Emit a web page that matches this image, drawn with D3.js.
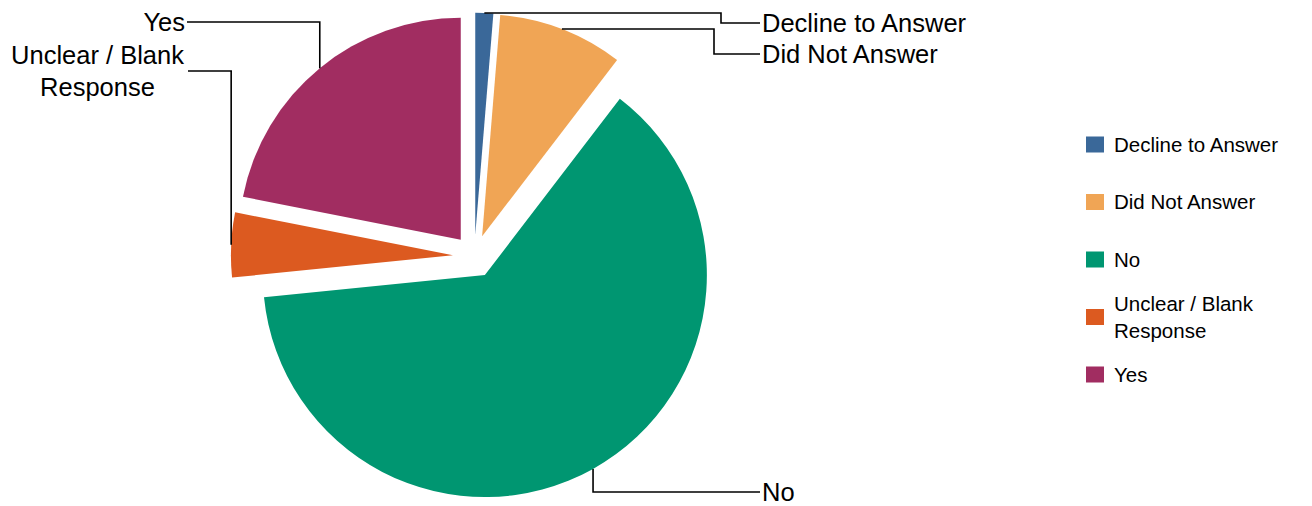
<!DOCTYPE html>
<html>
<head>
<meta charset="utf-8">
<script src="https://cdn.jsdelivr.net/npm/d3@7"></script>
<style>
  html, body { margin: 0; padding: 0; background: #fff; }
  svg { display: block; font-family: "Liberation Sans", Arial, sans-serif; }
</style>
</head>
<body>
<svg id="chart" width="1312" height="506"></svg>
<script>
// ---- data ----
const categories = ["Decline to Answer", "Did Not Answer", "No", "Unclear / Blank Response", "Yes"];
const values = [1.3, 9.1, 63.0, 4.7, 21.9];
const colors = ["#3A6899", "#F0A555", "#009671", "#DC5A20", "#A12D61"];
const legendLines = [["Decline to Answer"], ["Did Not Answer"], ["No"], ["Unclear / Blank", "Response"], ["Yes"]];

// ---- layout ----
const W = 1312, H = 506;
const cx = 474.4, cy = 256.3, R = 222, explode = 21.5;
const svg = d3.select("#chart");

const pie = d3.pie().sort(null).value(d => d.v).startAngle(0).endAngle(2 * Math.PI);
const arcs = pie(categories.map((c, i) => ({ c, v: values[i], col: colors[i] })));
const arc = d3.arc().innerRadius(0).outerRadius(R);

const g = svg.append("g").attr("transform", `translate(${cx},${cy})`);

function offset(d) {
  const a = (d.startAngle + d.endAngle) / 2;
  return [explode * Math.sin(a), -explode * Math.cos(a)];
}
function outerPoint(d) {
  const a = (d.startAngle + d.endAngle) / 2;
  const o = offset(d);
  return [cx + o[0] + R * Math.sin(a), cy + o[1] - R * Math.cos(a)];
}

g.selectAll("path.slice").data(arcs).enter().append("path")
  .attr("class", "slice")
  .attr("d", arc)
  .attr("fill", d => d.data.col)
  .attr("transform", d => `translate(${offset(d)[0]},${offset(d)[1]})`);

// ---- leader labels ----
const labelLayout = [
  { anchor: "start", tx: 762, ty: 23, lineEnd: 760, elbow: 721, lines: ["Decline to Answer"] },
  { anchor: "start", tx: 762, ty: 54, lineEnd: 760, elbow: 714, lines: ["Did Not Answer"] },
  { anchor: "start", tx: 762, ty: 492, lineEnd: 760, elbow: null, lines: ["No"] },
  { anchor: "middle", tx: 97.5, ty: 71, lineEnd: 188, elbow: null, lines: ["Unclear / Blank", "Response"] },
  { anchor: "end", tx: 185, ty: 22, lineEnd: 187, elbow: null, lines: ["Yes"] }
];

const fontSize = 25.5, lineH = 31.5;
arcs.forEach((d, i) => {
  const L = labelLayout[i];
  const p = outerPoint(d);
  let path = `M${p[0]},${p[1]}`;
  if (L.elbow !== null) path += `H${L.elbow}`;
  path += `V${L.ty}H${L.lineEnd}`;
  svg.append("path").attr("d", path).attr("fill", "none")
    .attr("stroke", "#000").attr("stroke-width", 1.6);

  const n = L.lines.length;
  const t = svg.append("text")
    .attr("x", L.tx)
    .attr("text-anchor", L.anchor)
    .attr("font-size", fontSize)
    .attr("fill", "#000");
  L.lines.forEach((s, k) => {
    t.append("tspan").attr("x", L.tx)
      .attr("y", L.ty + (k - (n - 1) / 2) * lineH)
      .attr("dy", "0.35em")
      .text(s);
  });
});

// ---- legend ----
const legX = 1086, legTextX = 1114, legY0 = 144.5, legStep = 57.5;
const legFont = 20.5, legLineH = 27;
const leg = svg.append("g");
categories.forEach((c, i) => {
  const y = legY0 + i * legStep;
  leg.append("rect").attr("x", legX).attr("y", y - 8).attr("width", 18).attr("height", 16)
    .attr("fill", colors[i]);
  const lines = legendLines[i];
  const t = leg.append("text").attr("font-size", legFont).attr("fill", "#000");
  lines.forEach((s, k) => {
    t.append("tspan").attr("x", legTextX)
      .attr("y", y + (k - (lines.length - 1) / 2) * legLineH)
      .attr("dy", "0.35em").text(s);
  });
});
</script>
</body>
</html>
